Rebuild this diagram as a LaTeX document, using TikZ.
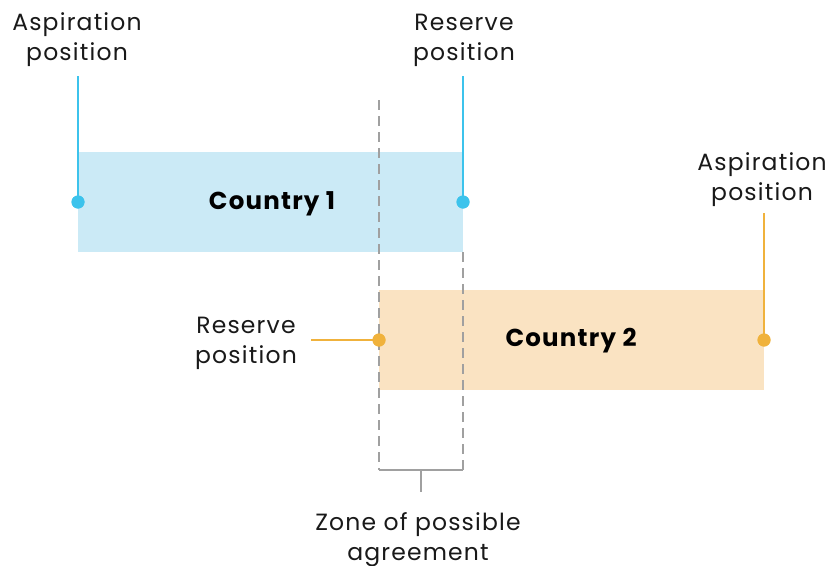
\documentclass[tikz,border=0pt]{standalone}
\usepackage{fontspec}
\setmainfont{Poppins}[LetterSpace=5]
\definecolor{bluel}{HTML}{3CC3EC}
\definecolor{bluef}{HTML}{CBEAF6}
\definecolor{orl}{HTML}{F0B23C}
\definecolor{orf}{HTML}{FAE3C2}
\definecolor{gr}{HTML}{A0A0A0}
\begin{document}
\begin{tikzpicture}[x=1pt,y=-1pt,
  lbl/.style={align=center,font=\fontsize{23.5}{30}\selectfont,inner sep=0pt,text=black!90},
  ctry/.style={font=\fontsize{24.5}{25}\selectfont\bfseries,inner sep=0pt},
  bdot/.style={circle,fill=bluel,minimum size=13pt,inner sep=0pt},
  odot/.style={circle,fill=orl,minimum size=13pt,inner sep=0pt},
  bline/.style={bluel,line width=1.6pt},
  oline/.style={orl,line width=1.6pt},
  gdash/.style={gr,line width=1.6pt,dash pattern=on 10pt off 6pt},
  gline/.style={gr,line width=1.6pt}]
\useasboundingbox (0,0) rectangle (830,565);
% boxes
\fill[bluef] (78,152) rectangle (463,252);
\fill[orf] (379,290) rectangle (764,390);
% dashed
\coordinate (d1t) at (379,100);
\coordinate (d1b) at (379,470);
\coordinate (d2t) at (463,252);
\coordinate (d2b) at (463,470);
\coordinate (bm) at (421,470);
\coordinate (bt) at (421,492);
\draw[gdash] (d1t) -- (d1b);
\draw[gdash] (d2t) -- (d2b);
\draw[gline] (d1b) -- (bm) -- (d2b);
\draw[gline] (bm) -- (bt);
% texts
\node[lbl] (a1) at (77,40) {Aspiration\\position};
\node[lbl] (r1) at (464,40) {Reserve\\position};
\node[lbl] (a2) at (762,180) {Aspiration\\position};
\node[lbl] (r2) at (246,343) {Reserve\\position};
\node[lbl] (z) at (418,540) {Zone of possible\\agreement};
\node[ctry] (c1) at (272,204) {Country 1};
\node[ctry] (c2) at (571,341) {Country 2};
% dots and leaders
\node[bdot] (p1) at (78,202) {};
\node[bdot] (p2) at (463,202) {};
\node[odot] (q1) at (379,340) {};
\node[odot] (q2) at (764,340) {};
\coordinate (t1) at (78,76);
\coordinate (t2) at (463,76);
\coordinate (t3) at (764,213);
\coordinate (t4) at (311,340);
\draw[bline] (t1) -- (p1.center);
\draw[bline] (t2) -- (p2.center);
\draw[oline] (t3) -- (q2.center);
\draw[oline] (t4) -- (q1.center);
\node[bdot] at (p1) {};
\node[bdot] at (p2) {};
\node[odot] at (q1) {};
\node[odot] at (q2) {};
\end{tikzpicture}
\end{document}
